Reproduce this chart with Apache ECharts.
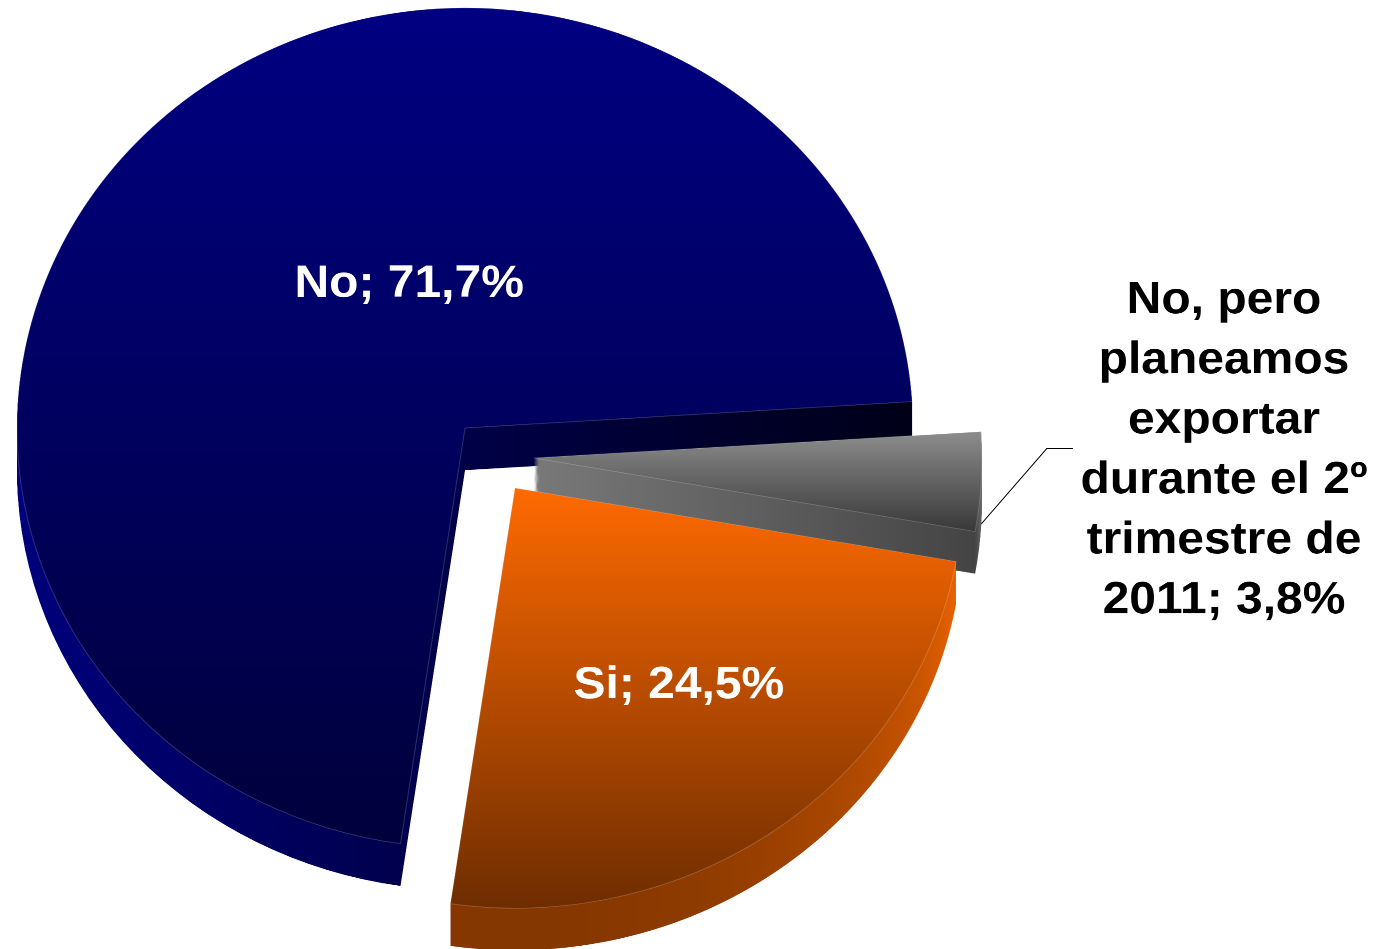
<!DOCTYPE html>
<html>
<head>
<meta charset="utf-8">
<script src="https://cdn.jsdelivr.net/npm/echarts@6/dist/echarts.min.js"></script>
<style>
  html, body { margin: 0; padding: 0; background: #fff; overflow: hidden; }
  #wrap { width: 1384px; height: 949px; overflow: hidden; }
  /* the pie is drawn round, then flattened vertically to give the tilted 3D look */
  #chart { width: 1384px; height: 1012px; transform: scaleY(0.93775); transform-origin: 0 0; }
</style>
</head>
<body>
<div id="wrap"><div id="chart"></div></div>
<script>
const categories = ['No', 'Si', 'No, pero planeamos exportar durante el 2º trimestre de 2011'];
const shares = [71.7, 24.5, 3.8];

// layout (unflattened px): exploded centre of each slice, radius, wall depth
const RADIUS = 448;
const DEPTH = 45;
const WALL_STEPS = 45;
const START_ANGLE = 3.6;
const sliceCenters = [[465, 456.4], [515, 520.4], [534, 488.4]];

const FONT = "'Liberation Sans', Arial, Helvetica, sans-serif";
const FONT_SIZE = 48;
const OUTSIDE_WRAP = 320;

const lin = (x, y, x2, y2, stops) => ({
  type: 'linear', x, y, x2, y2,
  colorStops: stops.map(([offset, color]) => ({ offset, color }))
});

const faceColors = [
  lin(0, 0, 0, 1, [[0, '#000082'], [1, '#00003c']]),
  lin(0, 0, 0, 1, [[0, '#ff6a00'], [1, '#6e2d00']]),
  lin(0, 0, 0, 1, [[0, '#8e8e8e'], [1, '#383838']])
];
const wallColors = [
  lin(0, 0, 1, 0, [[0, '#00007c'], [0.45, '#00004c'], [1, '#000018']]),
  lin(0, 0, 0, 1, [[0, '#ff6c00'], [1, '#853700']]),
  lin(0, 0, 0, 1, [[0, '#8c8c8c'], [1, '#444444']])
];

const formatShare = p => p.name + '; ' + p.value.toFixed(1).replace('.', ',') + '%';

// greedy word wrap so every line is centred without trailing spaces
const measureCtx = document.createElement('canvas').getContext('2d');
measureCtx.font = 'bold ' + FONT_SIZE + 'px ' + FONT;
function wrapWords(text, maxWidth) {
  const lines = [];
  let line = '';
  text.split(' ').forEach(word => {
    const next = line ? line + ' ' + word : word;
    if (line && measureCtx.measureText(next).width > maxWidth) {
      lines.push(line);
      line = word;
    } else {
      line = next;
    }
  });
  if (line) lines.push(line);
  return lines.join('\n');
}

// label settings: which layer carries the label of each slice
const labelSpec = [
  { layer: 'face', position: 'inside', color: '#fff', dx: 98, dy: 14 },
  { layer: 'face', position: 'inside', color: '#fff', dx: 31, dy: 27 },
  { layer: 'bottom', position: 'outside', color: '#000', x: 1224, y: 481 }
];

// one pie layer showing only slice `idx`, pushed down by `drop` px
function sliceSeries(idx, layer, drop) {
  const c = sliceCenters[idx];
  const spec = labelSpec[idx];
  const hasLabel = spec.layer === layer;
  const isFace = layer === 'face';
  const data = categories.map((name, i) => {
    const own = i === idx;
    return {
      name,
      value: shares[i],
      itemStyle: own
        ? (isFace
            ? { color: faceColors[i], borderColor: 'rgba(255,255,255,0.18)', borderWidth: 1 }
            : { color: wallColors[i], borderWidth: 0 })
        : { color: 'rgba(0,0,0,0)', borderWidth: 0 },
      label: { show: own && hasLabel },
      labelLine: { show: own && hasLabel && spec.position === 'outside' }
    };
  });
  const s = {
    type: 'pie',
    center: [c[0], c[1] + drop],
    radius: [0, RADIUS],
    startAngle: START_ANGLE,
    clockwise: false,
    silent: true,
    selectedMode: false,
    avoidLabelOverlap: false,
    animation: false,
    emphasis: { disabled: true },
    label: {
      position: spec.position,
      formatter: formatShare,
      color: spec.color,
      fontFamily: FONT,
      fontWeight: 'bold',
      fontSize: FONT_SIZE,
      lineHeight: 64
    },
    labelLine: { lineStyle: { color: '#000', width: 1 } },
    data
  };
  if (hasLabel && spec.position === 'inside') {
    s.labelLayout = () => ({ dx: spec.dx, dy: spec.dy });
  }
  if (hasLabel && spec.position === 'outside') {
    s.label.formatter = p => wrapWords(formatShare(p), OUTSIDE_WRAP);
    s.label.align = 'center';
    s.labelLayout = p => {
      const out = { x: spec.x, y: spec.y, align: 'center', verticalAlign: 'middle' };
      if (p.labelLinePoints && p.labelLinePoints.length) {
        const start = p.labelLinePoints[0];
        out.labelLinePoints = [start, [spec.x - 177, spec.y - 3], [spec.x - 151, spec.y - 3]];
      }
      return out;
    };
  }
  return s;
}

// extruded slice: stacked wall layers from the bottom up, then the top face
function slice(idx) {
  const list = [];
  for (let j = WALL_STEPS; j >= 1; j--) {
    list.push(sliceSeries(idx, j === WALL_STEPS ? 'bottom' : 'wall', DEPTH * j / WALL_STEPS));
  }
  list.push(sliceSeries(idx, 'face', 0));
  return list;
}

const chart = echarts.init(document.getElementById('chart'), null, { devicePixelRatio: 2 });
chart.setOption({
  backgroundColor: '#fff',
  // back to front: blue, grey, orange
  series: [].concat(slice(0), slice(2), slice(1))
});
</script>
</body>
</html>
